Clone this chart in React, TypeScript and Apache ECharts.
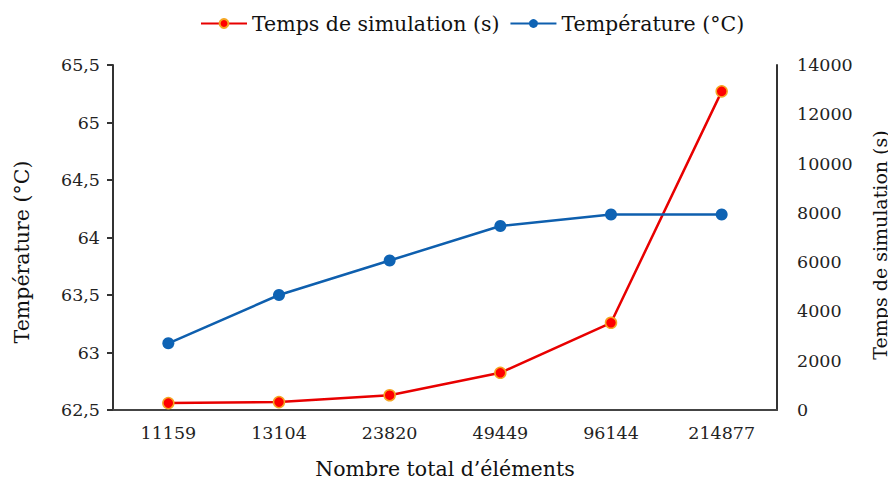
import React, { useEffect, useRef } from "react";
import * as echarts from "echarts";

const categories = ["11159", "13104", "23820", "49449", "96144", "214877"];
const simulationTime = [280, 320, 600, 1510, 3540, 12930];
const temperature = [63.08, 63.5, 63.8, 64.1, 64.2, 64.2];
const leftAxis = { min: 62.5, max: 65.5, interval: 0.5 };
const rightAxis = { min: 0, max: 14000, interval: 2000 };
const leftName = "Température (°C)";
const rightName = "Temps de simulation (s)";
const xName = "Nombre total d’éléments";

const FONT = "DejaVu Serif";
const TICK_SIZE = 17.5;
const NAME_SIZE = 20.5;

export default function App() {
  const ref = useRef<HTMLDivElement>(null);
  useEffect(() => {
    if (!ref.current) return;
    const chart = echarts.init(ref.current, undefined, { renderer: "svg" });
    chart.setOption({
      animation: false,
      textStyle: { fontFamily: FONT },
      legend: {
        top: 0,
        left: 187,
        itemWidth: 46,
        itemHeight: 11,
        itemGap: 10,
        textStyle: { fontFamily: FONT, fontSize: NAME_SIZE, color: "#111" },
        data: [rightName, leftName],
      },
      grid: { left: 105, right: 119, top: 57, bottom: 67, containLabel: false },
      xAxis: {
        type: "category",
        data: categories,
        boundaryGap: true,
        axisLine: { lineStyle: { color: "#444", width: 2 } },
        axisTick: { show: false },
        axisLabel: { fontFamily: FONT, fontSize: TICK_SIZE, color: "#222", margin: 14 },
        name: xName,
        nameLocation: "middle",
        nameGap: 48,
        nameTextStyle: { fontFamily: FONT, fontSize: NAME_SIZE, color: "#111" },
      },
      yAxis: [
        {
          type: "value",
          position: "left",
          min: leftAxis.min,
          max: leftAxis.max,
          interval: leftAxis.interval,
          splitLine: { show: false },
          axisLine: { show: true, lineStyle: { color: "#333", width: 2 } },
          axisTick: { show: true, length: 6, lineStyle: { color: "#333", width: 2 } },
          axisLabel: {
            fontFamily: FONT,
            fontSize: TICK_SIZE,
            color: "#222",
            margin: 13,
            formatter: (v: number) => String(v).replace(".", ","),
          },
        },
        {
          type: "value",
          position: "right",
          min: rightAxis.min,
          max: rightAxis.max,
          interval: rightAxis.interval,
          splitLine: { show: false },
          axisLine: { show: true, lineStyle: { color: "#333", width: 2 } },
          axisTick: { show: false },
          axisLabel: {
            fontFamily: FONT,
            fontSize: TICK_SIZE,
            color: "#222",
            margin: 20,
            formatter: (v: number) => String(v),
          },
        },
      ],
      graphic: [
        {
          type: "text",
          x: 14,
          y: 244,
          rotation: Math.PI / 2,
          style: {
            text: leftName,
            fontFamily: FONT,
            fontSize: NAME_SIZE,
            fill: "#111",
            align: "center",
            verticalAlign: "middle",
          },
        },
        {
          type: "text",
          x: 872,
          y: 237,
          rotation: Math.PI / 2,
          style: {
            text: rightName,
            fontFamily: FONT,
            fontSize: 19,
            fill: "#111",
            align: "center",
            verticalAlign: "middle",
          },
        },
      ],
      series: [
        {
          name: rightName,
          type: "line",
          yAxisIndex: 1,
          data: simulationTime,
          symbol: "circle",
          symbolSize: 11,
          lineStyle: { color: "#e80000", width: 2.5 },
          itemStyle: { color: "#ff0000", borderColor: "#f5a623", borderWidth: 1.5 },
        },
        {
          name: leftName,
          type: "line",
          yAxisIndex: 0,
          data: temperature,
          symbol: "circle",
          symbolSize: 12,
          lineStyle: { color: "#0e5fae", width: 2.5 },
          itemStyle: { color: "#0e63b4" },
        },
      ],
    });
    return () => chart.dispose();
  }, []);
  return <div ref={ref} style={{ width: 888, height: 476 }} />;
}
